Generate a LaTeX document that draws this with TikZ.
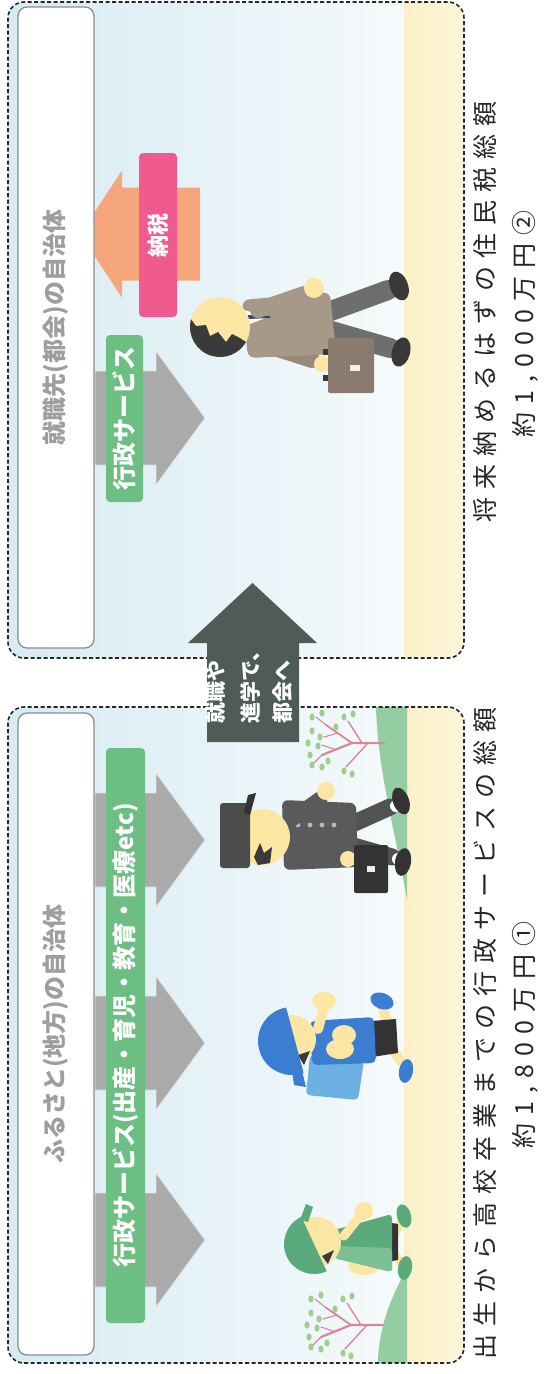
\documentclass[tikz,border=0pt]{standalone}
\usepackage{fontspec}
\newfontfamily\jp{Noto Sans CJK JP}
\newfontfamily\jpsp{Noto Sans CJK JP}[LetterSpace=32]
\usetikzlibrary{calc}

\definecolor{bgtop}{HTML}{D6EBF3}
\definecolor{bgbot}{HTML}{F6FAFB}
\definecolor{groundhi}{HTML}{FBF0C8}
\definecolor{ground}{HTML}{FAEEC0}
\definecolor{hill}{HTML}{94CDA2}
\definecolor{titlegray}{HTML}{9E9E9E}
\definecolor{boxline}{HTML}{8C8C8C}
\definecolor{arrowgray}{HTML}{AAAAAA}
\definecolor{servgreen}{HTML}{6DBE82}
\definecolor{taxpink}{HTML}{EE5B8C}
\definecolor{taxorange}{HTML}{F6A67B}
\definecolor{movedark}{HTML}{4F5B57}
\definecolor{skin}{HTML}{FBE6A4}
\definecolor{hair}{HTML}{3A3A3A}
\definecolor{suit}{HTML}{A69988}
\definecolor{suitdark}{HTML}{978A7A}
\definecolor{slacks}{HTML}{6E6E6E}
\definecolor{shoe}{HTML}{383838}
\definecolor{bag}{HTML}{8A7B6E}
\definecolor{tie}{HTML}{3E4A6B}
\definecolor{gakuran}{HTML}{5A5A5A}
\definecolor{ink}{HTML}{333333}
\definecolor{capblue}{HTML}{3B7DD1}
\definecolor{packblue}{HTML}{6DB0E4}
\definecolor{kidgreen}{HTML}{5AAA7C}
\definecolor{kidgreenlt}{HTML}{7CC195}
\definecolor{trunk}{HTML}{D8879A}
\definecolor{leaf}{HTML}{9FCF8E}

\tikzset{
  panel/.style={draw=black!85, line width=1.6pt, dash pattern=on 4pt off 2.5pt, rounded corners=16pt},
  titlebox/.style={draw=boxline, line width=1.3pt, fill=white, rounded corners=9pt},
  titletext/.style={font={\jp\bfseries\fontsize{24}{28}\selectfont}, text=titlegray, inner sep=0pt},
  servarrow/.style={fill=arrowgray, draw=white!80!gray, line width=0.8pt},
  servlabel/.style={fill=servgreen, rounded corners=4pt, text=white, inner sep=0pt,
    font={\jp\bfseries\fontsize{24}{26}\selectfont}},
  taxlabel/.style={fill=taxpink, rounded corners=4pt, text=white, inner sep=0pt,
    font={\jp\bfseries\fontsize{22}{24}\selectfont}},
  movetext/.style={font={\jp\bfseries\fontsize{21}{24}\selectfont}, text=white, anchor=west, inner sep=0pt},
  captext/.style={font={\jpsp\fontsize{25}{30}\selectfont}, text=black!85, inner sep=0pt},
  sapling/.pic={
    \draw[trunk, line width=2.2pt, line cap=round] (0,0) -- (0,32) -- (-12,62);
    \draw[trunk, line width=1.8pt, line cap=round] (0,32) -- (18,58);
    \draw[trunk, line width=1.4pt, line cap=round] (0,16) -- (-24,38);
    \draw[trunk, line width=1.4pt, line cap=round] (0,22) -- (22,36);
    \draw[trunk, line width=1.1pt, line cap=round] (-12,62) -- (-20,70) (18,58) -- (26,68)
      (-6,50) -- (-2,62) (10,46) -- (6,60);
    \foreach \p in {(-22,72),(-12,74),(-3,66),(6,64),(12,72),(26,72),(30,62),(-28,40),(-31,32),
                    (26,40),(29,31),(-18,56),(16,48),(-24,62),(0,76)}
      \fill[leaf] \p ellipse [x radius=3.6, y radius=2.6];
  }
}

\begin{document}
\begin{tikzpicture}[x=1pt, y=-1pt]
\useasboundingbox (0,0) rectangle (545,1374);
\fill[white] (0,0) rectangle (545,1374);

% the diagram is laid out sideways: u runs along the page, t runs across it
\begin{scope}[shift={(0,1374)}, rotate=90, transform shape]

  % panel backgrounds: sky and ground (shadings run across the page)
  \foreach \a/\b in {11/667, 716/1372} {
    \begin{scope}
      \clip[rounded corners=16pt] (\a,8) rectangle (\b,464);
      \shade[left color=bgtop, right color=bgbot] (\a,8) rectangle (\b,407);
      \shade[left color=groundhi, right color=ground!60!white] (\a,404) rectangle (\b,464);
    \end{scope}
  }

  % hills at both ends of the home-town panel
  \fill[hill] (11,378) .. controls (45,378) and (80,392) .. (105,407) -- (11,407) -- cycle;
  \fill[hill] (474,407) .. controls (540,396) and (600,378) .. (667,376) -- (667,407) -- cycle;

  % small trees
  \begin{scope}[shift={(49,383)}, x=1pt, y=1pt] \pic {sapling}; \end{scope}
  \begin{scope}[shift={(631,384)}, x=1pt, y=1pt] \pic {sapling}; \end{scope}

  % dashed panel outlines
  \draw[panel] (11,8) rectangle (667,464);
  \draw[panel] (716,8) rectangle (1372,464);

  % service arrows (home town)
  \foreach \c in {534,331,134} {
    \path[servarrow] (\c-47,95) -- (\c+47,95) -- (\c+47,156) -- (\c+67,156) -- (\c,205)
      -- (\c-67,156) -- (\c-47,156) -- cycle;
  }
  % service arrow (city)
  \path[servarrow] (909,95) -- (1003,95) -- (1003,156) -- (1023,156) -- (956,205)
    -- (889,156) -- (909,156) -- cycle;

  % tax arrow (city)
  \path[fill=taxorange] (1093.5,200) -- (1093.5,122) -- (1076.5,122) -- (1140,80)
    -- (1203.5,122) -- (1186.5,122) -- (1186.5,200) -- cycle;

  % title boxes
  \node[titlebox, minimum width=642pt, minimum height=76pt, inner sep=0pt] (hometitlebox) at (340,56) {};
  \node[titlebox, minimum width=641pt, minimum height=76pt, inner sep=0pt] (citytitlebox) at (1046.5,56) {};
  \node[titletext] (hometitle) at (340,56) {ふるさと(地方)の自治体};
  \node[titletext] (citytitle) at (1046.5,56) {就職先(都会)の自治体};

  % labels on the arrows
  \node[servlabel, minimum width=575pt, minimum height=39pt] (homeserv) at (338.5,125.5)
    {行政サービス(出産・育児・教育・医療etc)};
  \node[servlabel, minimum width=167pt, minimum height=37pt] (cityserv) at (955.5,124.5) {行政サービス};
  \node[taxlabel, minimum width=164pt, minimum height=38pt] (tax) at (1139,158) {納税};

  % toddler in green
  \begin{scope}[shift={(130,410)}, x=1pt, y=1pt]
    \draw[skin, line width=9pt, line cap=round] (-10,16) -- (-20,8);
    \fill[kidgreen, rotate around={-10:(-24,5)}] (-24,5) ellipse [x radius=12, y radius=7];
    \draw[skin, line width=9pt, line cap=round] (10,16) -- (24,8);
    \fill[kidgreen, rotate around={15:(28,6)}] (28,6) ellipse [x radius=12, y radius=7];
    \fill[ink] (-18,24) -- (22,24) -- (20,12) -- (-16,12) -- cycle;
    \fill[skin] (-22,46) ellipse [x radius=9, y radius=16];
    \fill[kidgreen, rounded corners=4pt] (-14,76) -- (14,76) -- (30,18) -- (-28,18) -- cycle;
    \fill[kidgreenlt, rounded corners=3pt] (-14,76) -- (-2,76) -- (-4,18) -- (-28,18) -- cycle;
    \draw[skin, line width=9pt, line cap=round] (8,66) -- (28,50);
    \fill[skin] (33,46) circle (9);
    \fill[skin] (2,94) circle (25);
    \fill[hair] (-20,82) -- (-6,76) -- (-12,88) -- cycle;
    \fill[kidgreen] (0,96) ++(205:30) arc[start angle=205, end angle=25, radius=30] -- cycle;
    \fill[kidgreen] (24,110) -- (40,104) -- (37,97) -- (22,102) -- cycle;
  \end{scope}

  % boy in blue with a backpack
  \begin{scope}[shift={(333,410)}, x=1pt, y=1pt]
    \fill[packblue, rounded corners=4pt] (-59,52) -- (-20,46) -- (-14,100) -- (-54,104) -- cycle;
    \draw[skin, line width=10pt, line cap=round] (-8,18) -- (-24,6);
    \fill[capblue, rotate around={-10:(-30,4)}] (-30,4) ellipse [x radius=12, y radius=7];
    \draw[skin, line width=10pt, line cap=round] (12,20) -- (34,28);
    \fill[capblue, rotate around={70:(40,28)}] (40,28) ellipse [x radius=12, y radius=8];
    \fill[ink] (-16,38) -- (20,38) -- (22,14) -- (-12,12) -- cycle;
    \fill[capblue, rounded corners=5pt] (-24,98) -- (20,100) -- (24,36) -- (-22,34) -- cycle;
    \fill[skin] (-8,70) ellipse [x radius=10, y radius=14];
    \fill[skin] (6,66) ellipse [x radius=10, y radius=12];
    \draw[skin, line width=10pt, line cap=round] (12,92) -- (34,86);
    \fill[skin] (40,86) ellipse [x radius=9, y radius=12];
    \fill[skin] (2,118) circle (24);
    \fill[hair] (-24,106) -- (-10,100) -- (-14,112) -- cycle;
    \fill[capblue] (0,118) ++(200:34) arc[start angle=200, end angle=10, radius=34] -- cycle;
    \fill[capblue] (-30,108) -- (-46,104) -- (-44,116) -- (-30,118) -- cycle;
  \end{scope}

  % high-school student in uniform
  \begin{scope}[shift={(537,410)}, x=1pt, y=1pt]
    \draw[ink!85, line width=17pt, line cap=round] (-8,60) -- (-20,18);
    \fill[white] (-22,12) circle (6);
    \fill[ink, rotate around={-10:(-25,7)}] (-25,7) ellipse [x radius=14, y radius=8];
    \draw[ink!85, line width=17pt, line cap=round] (12,60) -- (30,20);
    \fill[white] (31,14) circle (6);
    \fill[ink, rotate around={20:(36,9)}] (36,9) ellipse [x radius=14, y radius=8];
    \fill[gakuran, rounded corners=6pt] (-33,126) -- (37,128) -- (34,54) -- (-30,52) -- cycle;
    \foreach \yy in {112,100,88,76} \fill[gray!55] (12,\yy) circle (2.4);
    \fill[skin] (-22,62) circle (8);
    \fill[ink, rounded corners=2pt] (-56,22) rectangle (-8,56);
    \fill[white!85!gray] (-35,35) rectangle (-29,43);
    \draw[gakuran, line width=15pt, line cap=round] (18,118) -- (38,90);
    \fill[skin] (46,84) circle (9);
    \fill[skin] (0,148) circle (28);
    \fill[hair] (-26,140) -- (-10,138) -- (-16,146) -- (-6,150) -- (-20,156) -- (-28,152) -- cycle;
    \fill[gakuran!85!black, rounded corners=3pt] (-31,160) rectangle (34,190);
    \fill[ink] (22,160) -- (44,154) -- (42,162) -- (24,166) -- cycle;
  \end{scope}

  % office worker with a briefcase
  \begin{scope}[shift={(1050,410)}, x=1pt, y=1pt]
    \draw[suitdark, line width=16pt, line cap=round] (-20,148) -- (-36,98);
    \draw[slacks, line width=20pt, line cap=round] (-6,82) -- (-24,20);
    \fill[shoe, rotate around={-15:(-28,9)}] (-28,9) ellipse [x radius=15, y radius=9];
    \draw[slacks, line width=20pt, line cap=round] (12,82) -- (34,22);
    \fill[shoe, rotate around={20:(38,11)}] (38,11) ellipse [x radius=15, y radius=9];
    \fill[suit, rounded corners=7pt] (-34,162) -- (24,168) -- (32,80) -- (-30,74) -- cycle;
    \fill[white] (-2,165) -- (14,166) -- (7,142) -- cycle;
    \fill[tie] (5,162) -- (9,162) -- (8,140) -- (6,140) -- cycle;
    \fill[skin] (-40,88) circle (8);
    \fill[shoe] (-57,80) rectangle (-51,87);
    \fill[shoe] (-31,80) rectangle (-25,87);
    \fill[bag, rounded corners=2pt] (-69,36) rectangle (-14,82);
    \fill[white!90!gray] (-47,50) rectangle (-41,60);
    \draw[suit, line width=16pt, line cap=round] (14,152) -- (30,106);
    \fill[skin] (36,96) circle (10);
    \fill[skin] (-3,190) circle (30);
    \fill[hair] (-3,190) ++(75:30) arc[start angle=75, end angle=240, radius=30]
      -- (-14,170) -- (-10,178) -- (-18,184) -- (-8,192) -- (-12,200) -- (-1,204) -- (-2,214) -- cycle;
  \end{scope}

  % moving to the city
  \path[fill=movedark] (632,207) -- (731,207) -- (731,188) -- (791,252.5) -- (731,317)
    -- (731,299) -- (632,299) -- cycle;
  \node[movetext] (move1) at (650,216) {就職や};
  \node[movetext] (move2) at (650,250) {進学で、};
  \node[movetext] (move3) at (650,283) {都会へ};

  % totals under each panel
  \node[captext] (homesum)  at (341,485) {出生から高校卒業までの行政サービスの総額};
  \node[captext] (homeval)  at (339,525) {約1,800万円①};
  \node[captext] (citysum)  at (1062,485) {将来納めるはずの住民税総額};
  \node[captext] (cityval)  at (1050,525) {約1,000万円②};

\end{scope}
\end{tikzpicture}
\end{document}
